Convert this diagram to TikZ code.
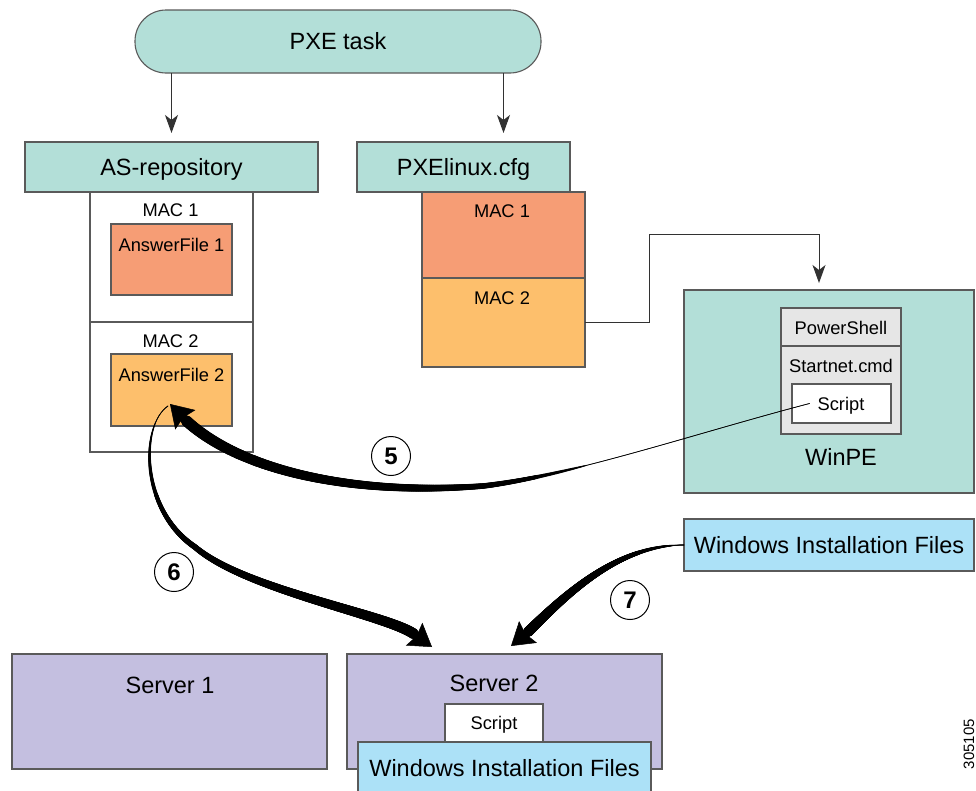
\documentclass[tikz,border=0pt]{standalone}
\usepackage{fontspec}
\setmainfont{Liberation Sans}
\usetikzlibrary{arrows.meta,decorations.markings}
\definecolor{teal1}{RGB}{179,223,216}
\definecolor{salmon}{RGB}{246,157,117}
\definecolor{orange1}{RGB}{253,191,108}
\definecolor{lav}{RGB}{196,191,224}
\definecolor{blue1}{RGB}{172,225,247}
\definecolor{gray1}{RGB}{230,230,230}
\definecolor{bd}{RGB}{90,90,90}
\definecolor{ln}{RGB}{50,50,50}
\tikzset{
  taper/.style n args={4}{postaction={decorate, decoration={markings,
    mark=between positions 0 and 1 step 0.001 with {%
      \pgfmathsetmacro\tpf{max(0.0001,(\pgfkeysvalueof{/pgf/decoration/mark info/sequence number}/1000-#1)/(1-#1))}%
      \pgfmathsetmacro\tpr{#2+#3*(\tpf)^#4}%
      \fill (0pt,0pt) circle[radius=\tpr pt];}}}}
}
\begin{document}
\begin{tikzpicture}[x=1pt,y=-1pt,
  box/.style={draw=bd, line width=1.1pt, inner sep=0pt, outer sep=0pt},
  big/.style={font=\fontsize{23.5}{28}\selectfont, text height=16.8pt, text depth=0pt, inner sep=0pt},
  small/.style={font=\fontsize{18.3}{22}\selectfont, text height=13.1pt, text depth=0pt, inner sep=0pt},
  thinarrow/.style={draw=ln, line width=1pt, -{Stealth[length=18pt,width=13pt,inset=5pt]}},
  circ/.style={circle, draw, line width=1pt, minimum size=39pt, inner sep=0pt, font=\fontsize{24}{28}\selectfont\bfseries},
  fathead/.style={-{Stealth[length=22pt,width=28pt,inset=3pt]}, line width=0.5pt},
  fatline/.style={line width=0.7pt}
]
\useasboundingbox (0,0) rectangle (976,790);
\fill[white] (0,0) rectangle (976,790);

% PXE task
\node[box, fill=teal1, rounded corners=31pt, minimum width=406pt, minimum height=63pt, big] (pxe) at (338,41.5) {PXE task};

% AS-repository column
\node[box, fill=white, minimum width=163pt, minimum height=130pt] (asm1) at (171.5,257) {};
\node[box, fill=white, minimum width=163pt, minimum height=130pt] (asm2) at (171.5,387) {};
\node[box, fill=teal1, minimum width=293pt, minimum height=50pt, big] (asrepo) at (171.5,167) {AS-repository};
\node[box, fill=salmon, minimum width=121pt, minimum height=71pt] (af1) at (171.5,259.5) {};
\node[box, fill=orange1, minimum width=121pt, minimum height=72pt] (af2) at (171.5,390) {};
\node[small] (asm1t) at (170.5,210) {MAC 1};
\node[small] (af1t) at (171.5,245) {AnswerFile 1};
\node[small] (asm2t) at (170.5,341) {MAC 2};
\node[small] (af2t) at (171.5,375) {AnswerFile 2};

% PXElinux column
\node[box, fill=salmon, minimum width=163pt, minimum height=86pt] (pm1) at (503.5,235) {};
\node[box, fill=orange1, minimum width=163pt, minimum height=89pt] (pm2) at (503.5,322.5) {};
\node[box, fill=teal1, minimum width=213pt, minimum height=50pt, big] (pxecfg) at (463.5,167) {PXElinux.cfg};
\node[small] (pm1t) at (502,211) {MAC 1};
\node[small] (pm2t) at (502,298) {MAC 2};

% WinPE
\node[box, fill=teal1, minimum width=290pt, minimum height=203pt] (winpe) at (829,391.5) {};
\node[box, fill=gray1, minimum width=120pt, minimum height=38pt] (ps) at (841,327) {};
\node[box, fill=gray1, minimum width=120pt, minimum height=88pt] (snet) at (841,390) {};
\node[box, fill=white, minimum width=99pt, minimum height=39pt] (wscript) at (841.5,403.5) {};
\node[small] (pst) at (841,327.5) {PowerShell};
\node[small] (snett) at (841,366) {Startnet.cmd};
\node[small] (wscriptt) at (841,404) {Script};
\node[big] (winpet) at (841,457) {WinPE};

% Windows Installation Files (right)
\node[box, fill=blue1, minimum width=290pt, minimum height=52pt, big] (wif) at (829,545) {Windows Installation Files};

% Servers
\node[box, fill=lav, minimum width=315pt, minimum height=115pt] (srv1) at (169.5,711.5) {};
\node[big] (srv1t) at (170,685) {Server 1};
\node[box, fill=lav, minimum width=315pt, minimum height=115pt] (srv2) at (504.5,711.5) {};
\node[big] (srv2t) at (494,683) {Server 2};
\node[box, fill=white, minimum width=98pt, minimum height=38pt] (sscript) at (494,723) {};
\node[small] (sscriptt) at (494,723) {Script};
\node[box, fill=blue1, minimum width=293pt, minimum height=60pt] (swif) at (504.5,772) {};
\node[big] (swift) at (504.5,768) {Windows Installation Files};

% thin connectors
\draw[thinarrow, shorten >=9pt] (pxe.south -| asrepo.north) -- (asrepo.north);
\draw[thinarrow, shorten >=9pt] (pxe.south -| pm1.north) -- (pxecfg.north -| pm1.north);
\coordinate (k1) at (649,234);
\draw[thinarrow, shorten >=7pt] (pm2.east) -| (k1) -| ([xshift=-10pt]winpe.north);

% step labels
\node[circ] (c5) at (391,456) {5};
\node[circ] (c6) at (174,572) {6};
\node[circ] (c7) at (630,600) {7};

% arrow 5: WinPE script -> AnswerFile 2
\coordinate (s5) at ([xshift=-32pt]wscript.center);
\coordinate (b5) at (186,420.5);
\coordinate (t5) at (170,404);
\draw[fatline, taper={0.35}{0.3}{5.4}{0.55}] (s5) .. controls (700,432) and (570,476) .. (483,486) .. controls (350,496) and (240,470) .. (b5);
\draw[fathead] (b5) -- (t5);

% arrow 6: AnswerFile 2 -> Server 2
\coordinate (a6) at (168,406);
\coordinate (b6) at (414,634);
\coordinate (t6) at (432,647);
\draw[fatline, taper={0.05}{0.4}{5}{0.7}] (a6) .. controls (140,425) and (140,510) .. (195,547) .. controls (245,590) and (385,614) .. (b6);
\draw[fathead] (b6) -- (t6);

% arrow 7: Windows Installation Files -> Server 2
\coordinate (b7) at (528,632);
\coordinate (t7) at (511,646);
\draw[fatline, taper={0.05}{0.4}{4.8}{0.7}] (wif.west) .. controls (620,545) and (570,590) .. (b7);
\draw[fathead] (b7) -- (t7);

% figure number
\node[rotate=90, font=\fontsize{15}{18}\selectfont, inner sep=0pt] (fignum) at (969,744) {305105};
\end{tikzpicture}
\end{document}
